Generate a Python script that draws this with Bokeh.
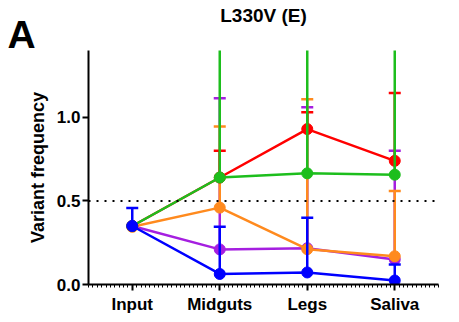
import numpy as np
from bokeh.plotting import figure
from bokeh.models import FixedTicker, Span, Title, LinearAxis
from bokeh.embed import file_html
from bokeh.resources import INLINE

categories = ["Input", "Midguts", "Legs", "Saliva"]
y_ticks = [0.0, 0.5, 1.0]
y_tick_labels = ["0.0", "0.5", "1.0"]
threshold = 0.5

purple_mean = [0.35, 0.21, 0.217, 0.15]
purple_upper = [0.35, 1.114, 1.06, 0.80]
orange_mean = [0.345, 0.46, 0.211, 0.169]
orange_upper = [0.345, 0.946, 1.108, 0.56]
red_mean = [0.35, 0.64, 0.93, 0.74]
red_upper = [0.35, 0.80, 1.03, 1.145]
green_mean = [0.35, 0.64, 0.665, 0.657]
green_upper = [0.35, 1.60, 1.60, 1.60]
blue_mean = [0.35, 0.063, 0.072, 0.024]
blue_upper = [0.458, 0.345, 0.40, 0.12]

series = [
    (purple_mean, purple_upper, "#A51FE0"),
    (orange_mean, orange_upper, "#FF8A1E"),
    (red_mean, red_upper, "#FF0000"),
    (green_mean, green_upper, "#1DBE1D"),
    (blue_mean, blue_upper, "#0000FF"),
]

FONT = "Liberation Sans"

p = figure(width=459, height=322, output_backend="svg", toolbar_location=None,
           x_range=(-0.5, 3.5), y_range=(0, 1.4),
           min_border_left=88, min_border_right=21, min_border_top=10, min_border_bottom=38)
p.title = None
p.outline_line_color = None
p.grid.visible = False
p.background_fill_color = "white"

xs = list(range(len(categories)))

p.add_layout(Span(location=threshold, dimension="width", line_color="black",
                  line_width=2, line_dash="2 6"))

for mean, upper, color in series:
    p.line(xs, mean, line_color=color, line_width=2.5)
    p.segment(x0=xs, y0=mean, x1=xs, y1=upper, line_color=color, line_width=2.5)
    cap_x = [x for x, m, u in zip(xs, mean, upper) if u > m]
    cap_y = [u for m, u in zip(mean, upper) if u > m]
    p.scatter(cap_x, cap_y, marker="dash", size=12, line_color=color, line_width=2.5)
    p.scatter(xs, mean, size=11, fill_color=color, line_color=color)

# axes
p.xaxis.ticker = FixedTicker(ticks=xs, minor_ticks=list(np.arange(-0.5, 3.5001, 0.05)))
p.xaxis.major_label_overrides = {i: c for i, c in enumerate(categories)}
p.yaxis.ticker = FixedTicker(ticks=y_ticks, minor_ticks=[])
p.yaxis.major_label_overrides = {t: l for t, l in zip(y_ticks, y_tick_labels)}

for ax in (p.xaxis, p.yaxis):
    ax.axis_line_width = 2
    ax.axis_line_color = "black"
    ax.major_tick_line_width = 2
    ax.major_tick_line_color = "black"
    ax.major_tick_out = 6
    ax.major_tick_in = 0
    ax.major_label_text_font = FONT
    ax.major_label_text_font_style = "bold"
    ax.major_label_text_font_size = "17px"
    ax.major_label_text_color = "black"

p.xaxis.minor_tick_line_color = "black"
p.xaxis.minor_tick_line_width = 1
p.xaxis.minor_tick_out = 3
p.xaxis.minor_tick_in = 0
p.xaxis.major_label_standoff = 4
p.yaxis.major_label_standoff = 2

p.yaxis.axis_label = "Variant frequency"
p.yaxis.axis_label_text_font = FONT
p.yaxis.axis_label_text_font_style = "bold"
p.yaxis.axis_label_text_font_size = "18px"
p.yaxis.axis_label_text_color = "black"
p.yaxis.axis_label_standoff = 6

# invisible spacer axis above the frame (one white tick, empty label)
spacer = LinearAxis(ticker=FixedTicker(ticks=[1.5], minor_ticks=[]), axis_line_color=None,
                    major_tick_line_color="white", major_tick_line_width=1,
                    minor_tick_line_color=None,
                    major_tick_out=12, major_tick_in=0, minor_tick_out=0, minor_tick_in=0,
                    major_label_standoff=0, major_label_overrides={1.5: ""})
p.add_layout(spacer, "above")
p.add_layout(Title(text="A", align="left", offset=-81, standoff=-34,
                   text_font=FONT, text_font_style="bold", text_font_size="39px",
                   text_color="black"), "above")
p.add_layout(Title(text="L330V (E)", align="center", standoff=4,
                   text_font=FONT, text_font_style="bold", text_font_size="19px",
                   text_color="black"), "above")

open("out.html", "w").write(file_html(p, INLINE))
